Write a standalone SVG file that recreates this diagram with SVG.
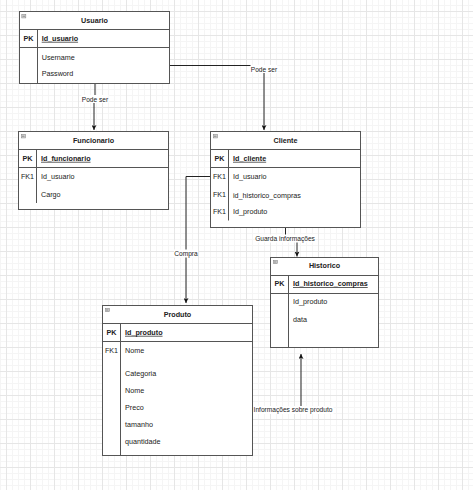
<svg xmlns="http://www.w3.org/2000/svg" width="473" height="490" viewBox="0 0 473 490">
<style>
.t{font-family:"Liberation Sans",Arial,sans-serif;font-size:7.2px;fill:#222}
.b{font-weight:bold}
.u{text-decoration:underline}
.c{text-anchor:middle}
.lbl{font-family:"Liberation Sans",Arial,sans-serif;font-size:6.6px;fill:#222;text-anchor:middle}
.box{fill:#fff;stroke:#555;stroke-width:1}
.ln{stroke:#555;stroke-width:1;fill:none}
.ic{fill:#e0e0e0;stroke:#888;stroke-width:0.6}
.icm{stroke:#444;stroke-width:0.6}
.edge{fill:none;stroke:#222;stroke-width:1}
.lb{fill:#fff}
</style>
<defs>
<pattern id="gMinor" width="6" height="6" patternUnits="userSpaceOnUse" x="0" y="5">
<path d="M0 0.5H6M0.5 0V6" stroke="#f5f5f5" stroke-width="1" fill="none"/>
</pattern>
<pattern id="gMajor" width="24" height="24" patternUnits="userSpaceOnUse" x="6" y="11">
<path d="M0 0.5H24M0.5 0V24" stroke="#e6e6e6" stroke-width="1" fill="none"/>
</pattern>
<marker id="arr" viewBox="0 0 5 5" refX="5" refY="2.5" markerWidth="5" markerHeight="5" markerUnits="userSpaceOnUse" orient="auto">
<path d="M0 0L5 2.5L0 5L1.2 2.5Z" fill="#111"/>
</marker>
</defs>
<g id="background">
<rect width="473" height="490" fill="#fff"/>
<rect width="473" height="490" fill="url(#gMinor)"/>
<rect width="473" height="490" fill="url(#gMajor)"/>
</g>
<g id="connectors">
<path class="edge" d="M95 83.5V100H94V130" marker-end="url(#arr)"/>
<path class="edge" d="M169.5 65.5H264V130" marker-end="url(#arr)"/>
<path class="edge" d="M285.5 227.5V240.5H297V256.5" marker-end="url(#arr)"/>
<path class="edge" d="M210.5 176.5H186V303" marker-end="url(#arr)"/>
<path class="edge" d="M252.5 410.5H301V354" marker-end="url(#arr)"/>
<rect class="lb" x="81.5" y="95" width="27" height="8"/>
<text class="lbl" x="95" y="101.7">Pode ser</text>
<rect class="lb" x="250.5" y="65" width="27" height="8"/>
<text class="lbl" x="264" y="71.7">Pode ser</text>
<rect class="lb" x="255" y="234.5" width="60" height="8"/>
<text class="lbl" x="285" y="241">Guarda informações</text>
<rect class="lb" x="174" y="249.5" width="24" height="8"/>
<text class="lbl" x="186" y="256">Compra</text>
<rect class="lb" x="252.5" y="406" width="81" height="8"/>
<text class="lbl" x="293" y="412.4">Informações sobre produto</text>
</g>
<g id="usuario">
<rect class="box" x="19.5" y="11.5" width="150" height="72"/>
<path class="ln" d="M19.5 29.5H169.5M19.5 47.5H169.5M37.5 29.5V83.5"/>
<rect class="ic" x="21.8" y="14.5" width="4" height="3.4"/>
<path class="icm" d="M22.5 16.2H25.1"/>
<text class="t b c" x="94.5" y="22.8">Usuario</text>
<text class="t b c" x="28.5" y="40.8">PK</text>
<text class="t b u" x="41.7" y="40.8">Id_usuario</text>
<text class="t" x="41.7" y="59.8">Username</text>
<text class="t" x="41.7" y="75.8">Password</text>
</g>
<g id="funcionario">
<rect class="box" x="18.5" y="131.5" width="150" height="78"/>
<path class="ln" d="M18.5 149.5H168.5M18.5 167.5H168.5M36.5 149.5V203"/>
<rect class="ic" x="21.3" y="134.5" width="4" height="3.4"/>
<path class="icm" d="M22 136.2H24.6"/>
<text class="t b c" x="93.5" y="142.8">Funcionario</text>
<text class="t b c" x="27.5" y="160.8">PK</text>
<text class="t b u" x="41" y="160.8">Id_funcionario</text>
<text class="t c" x="27.5" y="179.2">FK1</text>
<text class="t" x="41" y="179.2">Id_usuario</text>
<text class="t" x="41" y="197.2">Cargo</text>
</g>
<g id="cliente">
<rect class="box" x="210.5" y="131.5" width="150" height="96"/>
<path class="ln" d="M210.5 149.5H360.5M210.5 167.5H360.5M228.5 149.5V220.5"/>
<rect class="ic" x="213.3" y="134.5" width="4" height="3.4"/>
<path class="icm" d="M214 136.2H216.6"/>
<text class="t b c" x="285.5" y="142.8">Cliente</text>
<text class="t b c" x="219.5" y="160.8">PK</text>
<text class="t b u" x="233" y="160.8">Id_cliente</text>
<text class="t c" x="219.5" y="179.2">FK1</text>
<text class="t" x="233" y="179.2">Id_usuario</text>
<text class="t c" x="219.5" y="196.6">FK1</text>
<text class="t" x="233" y="197.8">id_historico_compras</text>
<text class="t c" x="219.5" y="213.8">FK1</text>
<text class="t" x="233" y="214.2">Id_produto</text>
</g>
<g id="historico">
<rect class="box" x="270.5" y="257.5" width="108" height="90"/>
<path class="ln" d="M270.5 275.5H378.5M270.5 293.5H378.5M288.5 275.5V347.5"/>
<rect class="ic" x="273.3" y="260.3" width="4" height="3.4"/>
<path class="icm" d="M274 262H276.6"/>
<text class="t b c" x="324.5" y="268.2">Historico</text>
<text class="t b c" x="279.5" y="286.2">PK</text>
<text class="t b u" x="293" y="286.2">Id_historico_compras</text>
<text class="t" x="293" y="304.2">Id_produto</text>
<text class="t" x="293" y="322.2">data</text>
</g>
<g id="produto">
<rect class="box" x="102.5" y="305.5" width="150" height="150"/>
<path class="ln" d="M102.5 323.5H252.5M102.5 341.5H252.5M120.5 323.5V455.5"/>
<rect class="ic" x="105.3" y="308.3" width="4" height="3.4"/>
<path class="icm" d="M106 310H108.6"/>
<text class="t b c" x="177.5" y="316.8">Produto</text>
<text class="t b c" x="111.5" y="334.8">PK</text>
<text class="t b u" x="125" y="334.8">Id_produto</text>
<text class="t c" x="111.5" y="352.8">FK1</text>
<text class="t" x="125" y="352.8">Nome</text>
<text class="t" x="125" y="376.2">Categoria</text>
<text class="t" x="125" y="393.2">Nome</text>
<text class="t" x="125" y="409.8">Preco</text>
<text class="t" x="125" y="426.8">tamanho</text>
<text class="t" x="125" y="443.8">quantidade</text>
</g>
</svg>
